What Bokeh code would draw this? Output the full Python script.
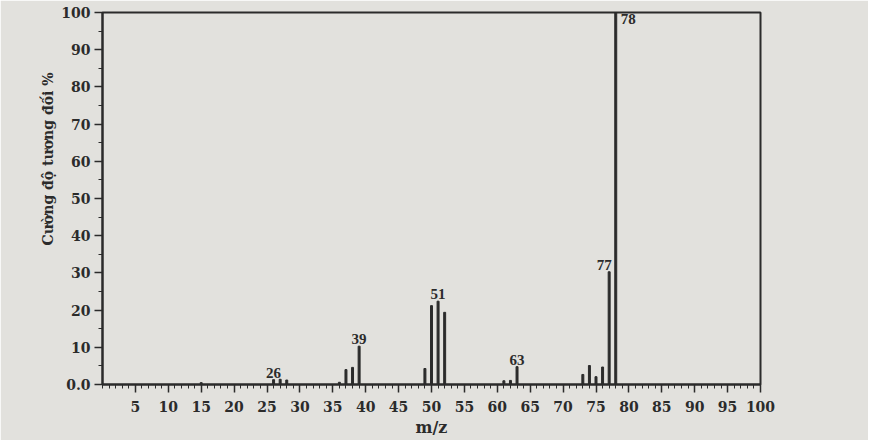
from bokeh.plotting import figure
from bokeh.models import FixedTicker, ColumnDataSource, LabelSet, Title
from bokeh.embed import file_html
from bokeh.resources import INLINE

# m/z peaks and relative intensities (%)
mz = [15, 26, 27, 28, 36, 37, 38, 39, 49, 50, 51, 52, 61, 62, 63, 73, 74, 75, 76, 77, 78]
intensity = [0.5, 1.3, 1.4, 1.2, 0.6, 4.0, 4.6, 10.3, 4.3, 21.2, 22.4, 19.4, 1.0, 1.1, 4.8, 2.7, 5.1, 2.1, 4.7, 30.3, 100]

label_mz = [26, 39, 51, 63, 77, 78]
x_ticks = list(range(5, 101, 5))
y_ticks = list(range(0, 101, 10))
y_tick_text = {0: "0.0"}
x_title = "m/z"
y_title = "Cường độ tương đối %"

bg = "#e2e1dd"
ink = "#2b2b2b"
font = "DejaVu Serif"

p = figure(width=868, height=440, x_range=(0, 100), y_range=(0, 100),
           output_backend="svg", toolbar_location=None,
           min_border_left=102, min_border_right=108, min_border_top=12, min_border_bottom=56)
p.background_fill_color = bg
p.border_fill_color = bg
p.outline_line_color = ink
p.outline_line_width = 2
p.grid.visible = False

src = ColumnDataSource(dict(x=mz, top=intensity))
p.vbar(x="x", top="top", bottom=0, width=0.3, color=ink, source=src)

lab_y = [intensity[mz.index(m)] for m in label_mz]
xoff = [0, 0, 0, 0, -5, 5]
yoff = [2, 2, 2, 2, 2, -1]
align = ["center", "center", "center", "center", "center", "left"]
base = ["bottom", "bottom", "bottom", "bottom", "bottom", "top"]
lsrc = ColumnDataSource(dict(x=label_mz, y=lab_y, t=[str(m) for m in label_mz],
                             xo=xoff, yo=yoff, al=align, bl=base))
p.add_layout(LabelSet(x="x", y="y", text="t", x_offset="xo", y_offset="yo",
                      text_align="al", text_baseline="bl", source=lsrc,
                      text_font=font, text_font_style="bold", text_font_size="15px",
                      text_color=ink))

for ax in (p.xaxis[0], p.yaxis[0]):
    ax.axis_line_color = ink
    ax.axis_line_width = 2
    ax.major_tick_line_color = ink
    ax.minor_tick_line_color = ink
    ax.major_tick_line_width = 1.5
    ax.major_label_text_font = font
    ax.major_label_text_font_style = "bold"
    ax.major_label_text_font_size = "14px"
    ax.major_label_text_color = ink
    ax.major_tick_in = 0
    ax.minor_tick_in = 0

p.xaxis.ticker = FixedTicker(ticks=x_ticks, minor_ticks=list(range(0, 101)))
p.xaxis.major_tick_out = 8
p.xaxis.minor_tick_out = 4
p.xaxis.major_label_standoff = 8
p.xaxis.axis_label = x_title
p.xaxis.axis_label_text_font = font
p.xaxis.axis_label_text_font_style = "bold"
p.xaxis.axis_label_text_font_size = "16px"
p.xaxis.axis_label_text_color = ink
p.xaxis.axis_label_standoff = 3

p.yaxis.ticker = FixedTicker(ticks=y_ticks, minor_ticks=list(range(0, 101, 5)))
p.yaxis.major_label_overrides = y_tick_text
p.yaxis.major_tick_out = 8
p.yaxis.minor_tick_out = 4
p.yaxis.major_label_standoff = 4

p.add_layout(Title(text=y_title, align="right", offset=60, standoff=6,
                   text_font=font, text_font_style="bold", text_font_size="14px",
                   text_color=ink), "left")

open("out.html", "w").write(file_html(p, INLINE))
